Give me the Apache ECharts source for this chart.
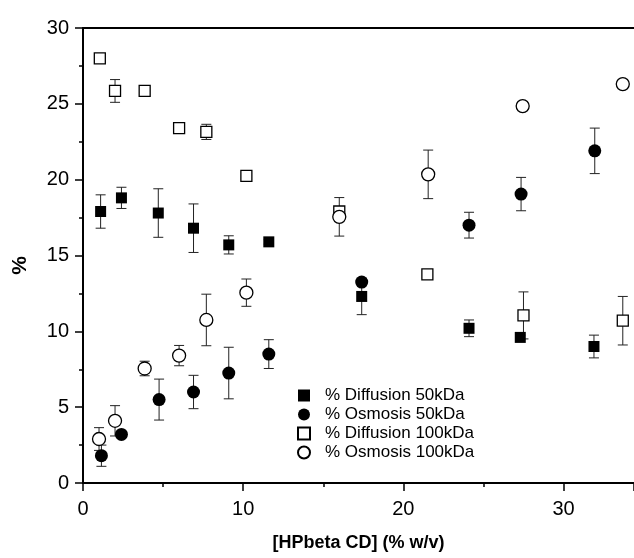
<!DOCTYPE html>
<html>
<head>
<meta charset="utf-8">
<script src="https://cdn.jsdelivr.net/npm/echarts@6/dist/echarts.min.js"></script>
<style>html,body{margin:0;padding:0;background:#fff}#c{width:634px;height:558px}</style>
</head>
<body>
<div id="c"></div>
<script>
// ---- data ----
const seriesNames = ['% Diffusion 50kDa', '% Osmosis 50kDa', '% Diffusion 100kDa', '% Osmosis 100kDa'];
const diff50X = [1.1, 2.4, 4.7, 6.9, 9.1, 11.6, 17.4, 24.1, 27.3, 31.9];
const diff50Y = [17.9, 18.8, 17.8, 16.8, 15.7, 15.9, 12.3, 10.2, 9.6, 9.0];
const diff50Err = [1.1, 0.7, 1.6, 1.6, 0.6, 0.15, 1.2, 0.55, 0.15, 0.75];
const osm50X = [1.15, 2.4, 4.75, 6.9, 9.1, 11.6, 17.4, 24.1, 27.35, 31.95];
const osm50Y = [1.8, 3.2, 5.5, 6.0, 7.25, 8.5, 13.25, 17.0, 19.05, 21.9];
const osm50Err = [0.7, 0.2, 1.35, 1.1, 1.7, 0.95, 0.2, 0.85, 1.1, 1.5];
const diff100X = [1.05, 2.0, 3.85, 6.0, 7.7, 10.2, 16.0, 21.5, 27.5, 33.7];
const diff100Y = [28.0, 25.85, 25.85, 23.4, 23.15, 20.25, 17.9, 13.75, 11.05, 10.7];
const diff100Err = [0.1, 0.75, 0.1, 0.1, 0.5, 0.25, 0.3, 0.2, 1.55, 1.6];
const osm100X = [1.0, 2.0, 3.85, 6.0, 7.7, 10.2, 16.0, 21.55, 27.45, 33.7];
const osm100Y = [2.9, 4.1, 7.55, 8.4, 10.75, 12.55, 17.55, 20.35, 24.85, 26.3];
const osm100Err = [0.75, 1.0, 0.48, 0.67, 1.7, 0.9, 1.27, 1.6, 0.25, 0.1];
const xTitle = '[HPbeta CD] (% w/v)';
const yTitle = '%';

// ---- build ----
const FONT = "'Liberation Sans', Arial, sans-serif";
function pts(xs, ys) { return xs.map((x, i) => [x, ys[i]]); }
function errs(xs, ys, es) { return xs.map((x, i) => [x, ys[i], es[i]]); }

function errSeries(data) {
  return {
    type: 'custom',
    z: 1,
    silent: true,
    data: data,
    encode: { x: 0, y: [1] },
    renderItem: function (params, api) {
      const x = api.value(0), y = api.value(1), e = api.value(2);
      const hi = api.coord([x, y + e]);
      const lo = api.coord([x, y - e]);
      const cw = 5;
      const st = { stroke: '#222', lineWidth: 1 };
      return {
        type: 'group',
        children: [
          { type: 'line', shape: { x1: hi[0], y1: hi[1], x2: lo[0], y2: lo[1] }, style: st },
          { type: 'line', shape: { x1: hi[0] - cw, y1: hi[1], x2: hi[0] + cw, y2: hi[1] }, style: st },
          { type: 'line', shape: { x1: lo[0] - cw, y1: lo[1], x2: lo[0] + cw, y2: lo[1] }, style: st }
        ]
      };
    }
  };
}

const chart = echarts.init(document.getElementById('c'));
const axisCommon = {
  axisLine: { show: true, lineStyle: { color: '#000', width: 2 } },
  axisTick: { show: true, inside: false, length: 8, lineStyle: { color: '#000', width: 1.5 } },
  minorTick: { show: true, splitNumber: 2, length: 4, lineStyle: { color: '#000', width: 1.5 } },
  splitLine: { show: false },
  axisLabel: { color: '#000', fontFamily: FONT, fontSize: 20 }
};

chart.setOption({
  animation: false,
  backgroundColor: '#fff',
  grid: { left: 83, right: 0, top: 28, bottom: 75 },
  legend: {
    orient: 'vertical',
    left: 292,
    top: 381,
    itemWidth: 12,
    itemHeight: 12,
    itemGap: 0,
    data: seriesNames,
    textStyle: { fontFamily: FONT, fontSize: 17, color: '#000', padding: [0, 0, 0, 10], lineHeight: 19 }
  },
  xAxis: [
    Object.assign({}, axisCommon, {
      type: 'value', min: 0, max: 34.4, interval: 10,
      axisLabel: Object.assign({}, axisCommon.axisLabel, { margin: 16, showMaxLabel: false }),
      name: xTitle, nameLocation: 'middle', nameGap: 51,
      nameTextStyle: { fontFamily: FONT, fontSize: 18, fontWeight: 'bold', color: '#000' }
    }),
    {
      type: 'value', position: 'top', min: 0, max: 34.4,
      axisLine: { show: true, lineStyle: { color: '#000', width: 2 } },
      axisTick: { show: false }, axisLabel: { show: false }, splitLine: { show: false }
    }
  ],
  yAxis: Object.assign({}, axisCommon, {
    type: 'value', min: 0, max: 30, interval: 5,
    axisLabel: Object.assign({}, axisCommon.axisLabel, { margin: 14 }),
    name: yTitle, nameLocation: 'middle', nameGap: 52, nameRotate: 90,
    nameTextStyle: { fontFamily: FONT, fontSize: 21, fontWeight: 'bold', color: '#000', padding: [0, 0, 0, -20] }
  }),
  series: [
    errSeries(errs(diff50X, diff50Y, diff50Err)),
    errSeries(errs(osm50X, osm50Y, osm50Err)),
    errSeries(errs(diff100X, diff100Y, diff100Err)),
    errSeries(errs(osm100X, osm100Y, osm100Err)),
    { name: seriesNames[0], type: 'scatter', z: 3, symbol: 'rect', symbolSize: 11,
      itemStyle: { color: '#000', opacity: 1 }, data: pts(diff50X, diff50Y) },
    { name: seriesNames[1], type: 'scatter', z: 3, symbol: 'circle', symbolSize: 13,
      itemStyle: { color: '#000', opacity: 1 }, data: pts(osm50X, osm50Y) },
    { name: seriesNames[2], type: 'scatter', z: 3, symbol: 'rect', symbolSize: 11,
      itemStyle: { color: '#fff', borderColor: '#000', borderWidth: 1.3, opacity: 1 }, data: pts(diff100X, diff100Y) },
    { name: seriesNames[3], type: 'scatter', z: 3, symbol: 'circle', symbolSize: 13,
      itemStyle: { color: '#fff', borderColor: '#000', borderWidth: 1.3, opacity: 1 }, data: pts(osm100X, osm100Y) }
  ]
});
</script>
</body>
</html>
